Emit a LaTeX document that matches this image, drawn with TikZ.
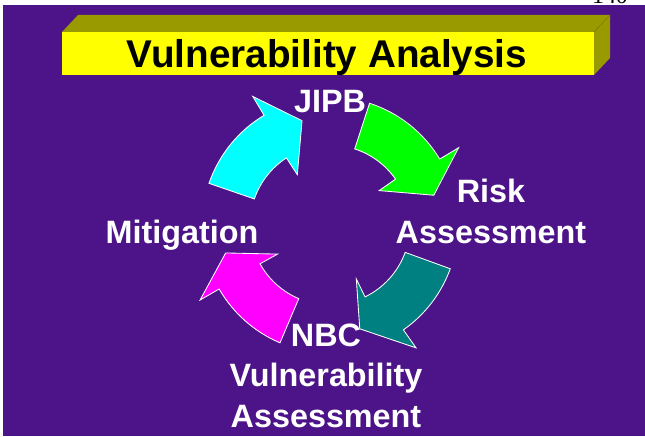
\documentclass[tikz,border=0pt]{standalone}
\usepackage{fontspec}
\setmainfont{Liberation Sans}
\newfontfamily\pagefont{Liberation Serif}
\usetikzlibrary{calc, positioning}
\usepackage{xcolor}

\definecolor{slidepurple}{RGB}{76,20,136}
\definecolor{baryellow}{RGB}{255,255,0}
\definecolor{barolive}{RGB}{153,153,0}
\definecolor{arrgreen}{RGB}{0,255,0}
\definecolor{arrteal}{RGB}{0,128,128}
\definecolor{arrmagenta}{RGB}{255,0,255}
\definecolor{arrcyan}{RGB}{0,255,255}

\tikzset{
  cyclearrow/.style={draw=white, line width=0.6pt, line join=miter},
  stagetext/.style={text=white, font=\bfseries\fontsize{23}{28.5}\selectfont, align=center, anchor=base, inner sep=0pt},
  titletext/.style={text=black, font=\bfseries\fontsize{27.5}{33}\selectfont, anchor=base, inner sep=0pt},
}

\begin{document}
\begin{tikzpicture}[x=0.025cm, y=0.025cm]
        \useasboundingbox (0,0) rectangle (645,436);
        \clip (0,0) rectangle (645,436);
        \fill[white] (0,0) rectangle (645,436);

        % Background
        \fill[slidepurple] (3,0) rectangle (645,431);
        \node (pagenum) [font=\pagefont\fontsize{17}{20}\selectfont, anchor=base, inner sep=0pt] at (610,432) {140};

        % Title bar
        \fill[barolive] (62,404) -- (78,421) -- (610,421) -- (594,404) -- cycle;
        \fill[barolive] (594,404) -- (610,421) -- (610,378) -- (594,361) -- cycle;
        \draw[barolive!80!black, line width=0.3pt] (594,404) -- (610,421);
        \fill[baryellow] (62,361) rectangle (594,404);
        \node (heading) [titletext] at (327,368) {Vulnerability Analysis};

        % Arrows
        \coordinate (hub) at (330,211);
        \foreach \col/\tail/\notch/\tip/\inotch in {arrcyan/161/121/105/123, arrgreen/72/31/16/35, arrteal/-20/-55/-74/-64, arrmagenta/-113/-150/-165/-151} {
            \draw[cyclearrow, fill=\col] ($(hub)+(\tail:80)$) -- ($(hub)+(\tail:128)$)
                arc[start angle=\tail, end angle=\notch, radius=128]
                -- ($(hub)+(\notch:150)$) -- ($(hub)+(\tip:108)$) -- ($(hub)+(\inotch:60)$)
                -- ($(hub)+(\inotch:80)$) arc[start angle=\inotch, end angle=\tail, radius=80] -- cycle;
        }

        % Stages (base = last line)
        \node (jipb) [stagetext] at (330,324) {JIPB};
        \node (risk) [stagetext] at (491,193) {Risk\\Assessment};
        \node (nbc) [stagetext] at (326,9) {NBC\\Vulnerability\\Assessment};
        \node (mitig) [stagetext] at (182,193) {Mitigation};
\end{tikzpicture}
\end{document}
